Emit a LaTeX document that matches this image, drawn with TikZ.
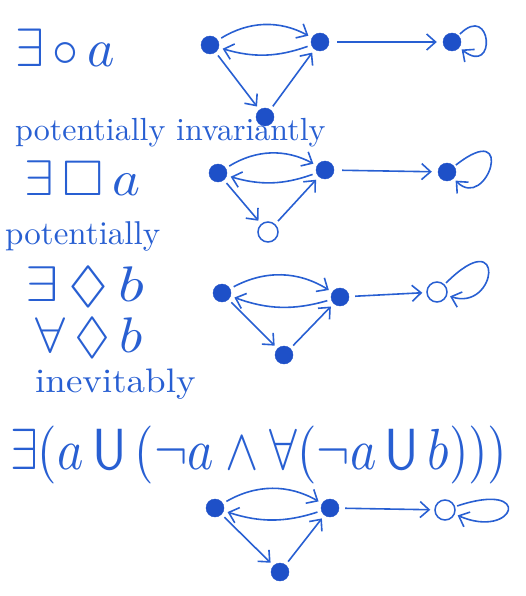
\documentclass[tikz,border=0pt]{standalone}
\usepackage{amssymb}
\usepackage{graphicx}
\usetikzlibrary{arrows.meta}
\definecolor{ink}{RGB}{40,95,210}
\definecolor{dot}{RGB}{30,80,200}
\tikzset{
  st/.style={circle,fill=dot,draw=dot,inner sep=0pt,minimum size=18pt},
  ost/.style={circle,draw=ink,line width=1.5pt,fill=white,inner sep=0pt,minimum size=20pt},
  arr/.style={draw=ink,line width=1.6pt,-{Straight Barb[length=9pt,width=16pt]},shorten >=4pt,shorten <=4pt},
  lbl/.style={text=ink,anchor=west,inner sep=0pt,font=\fontsize{10}{12}\selectfont},
}
\begin{document}
\begin{tikzpicture}[x=1pt,y=-1pt]
\useasboundingbox (0,0) rectangle (525,596);
% labels
\node[lbl] (t1) at (15,48) {\scalebox{5.2}[5.4]{$\exists\,{\circ}\,a$}};
\node[lbl] (t2) at (15,133) {\scalebox{3.2}[3.2]{potentially invariantly}};
\node[lbl] (t3) at (24,178) {\scalebox{5.3}[5]{$\exists\,{\Box}\,a$}};
\node[lbl] (t4) at (5,236) {\scalebox{3.3}[3.3]{potentially}};
\node[lbl] (t5) at (25,287) {\scalebox{6}[5]{$\exists\,{\lozenge}\,b$}};
\node[lbl] (t6) at (35,338) {\scalebox{5.4}[5]{$\forall\,{\lozenge}\,b$}};
\node[lbl] (t7) at (35,384) {\scalebox{3.7}[3.4]{inevitably}};
\node[lbl] (t8) at (10,455) {\scalebox{5.0}[5.8]{$\exists(a\,\mathsf{U}\,(\neg a\wedge\forall(\neg a\,\mathsf{U}\,b)))$}};
% graph 1
\node[st] (a1) at (210,45) {};
\node[st] (b1) at (320,42) {};
\node[st] (c1) at (452,42) {};
\node[st] (d1) at (265,117) {};
\draw[arr] (a1) to[bend left=30] (b1);
\draw[arr] (b1) to[bend left=18] (a1);
\draw[arr] (a1) -- (d1);
\draw[arr] (d1) -- (b1);
\draw[arr,shorten >=6pt,shorten <=8pt] (b1) -- (c1);
\draw[arr,shorten <=2pt,shorten >=3pt] (c1) .. controls +(40,-40) and +(45,35) .. (c1);
% graph 2
\node[st] (a2) at (218,173) {};
\node[st] (b2) at (325,170) {};
\node[st] (c2) at (447,172) {};
\node[ost] (d2) at (268,232) {};
\draw[arr] (a2) to[bend left=30] (b2);
\draw[arr] (b2) to[bend left=18] (a2);
\draw[arr] (a2) -- (d2);
\draw[arr] (d2) -- (b2);
\draw[arr,shorten >=6pt,shorten <=8pt] (b2) -- (c2);
\draw[arr,shorten <=2pt,shorten >=3pt] (c2) .. controls +(70,-55) and +(40,40) .. (c2);
% graph 3
\node[st] (a3) at (222,293) {};
\node[st] (b3) at (340,297) {};
\node[ost] (c3) at (437,292) {};
\node[st] (d3) at (284,355) {};
\draw[arr] (a3) to[bend left=30] (b3);
\draw[arr] (b3) to[bend left=18] (a3);
\draw[arr] (a3) -- (d3);
\draw[arr] (d3) -- (b3);
\draw[arr,shorten >=4pt,shorten <=6pt] (b3) -- (c3);
\draw[arr,shorten <=2pt,shorten >=3pt] (c3) .. controls +(70,-70) and +(60,20) .. (c3);
% graph 4
\node[st] (a4) at (215,508) {};
\node[st] (b4) at (330,508) {};
\node[ost] (c4) at (445,510) {};
\node[st] (d4) at (280,572) {};
\draw[arr] (a4) to[bend left=30] (b4);
\draw[arr] (b4) to[bend left=18] (a4);
\draw[arr] (a4) -- (d4);
\draw[arr] (d4) -- (b4);
\draw[arr,shorten >=4pt,shorten <=6pt] (b4) -- (c4);
\draw[arr,shorten <=2pt,shorten >=3pt] (c4) .. controls +(90,-30) and +(70,30) .. (c4);
\end{tikzpicture}
\end{document}
